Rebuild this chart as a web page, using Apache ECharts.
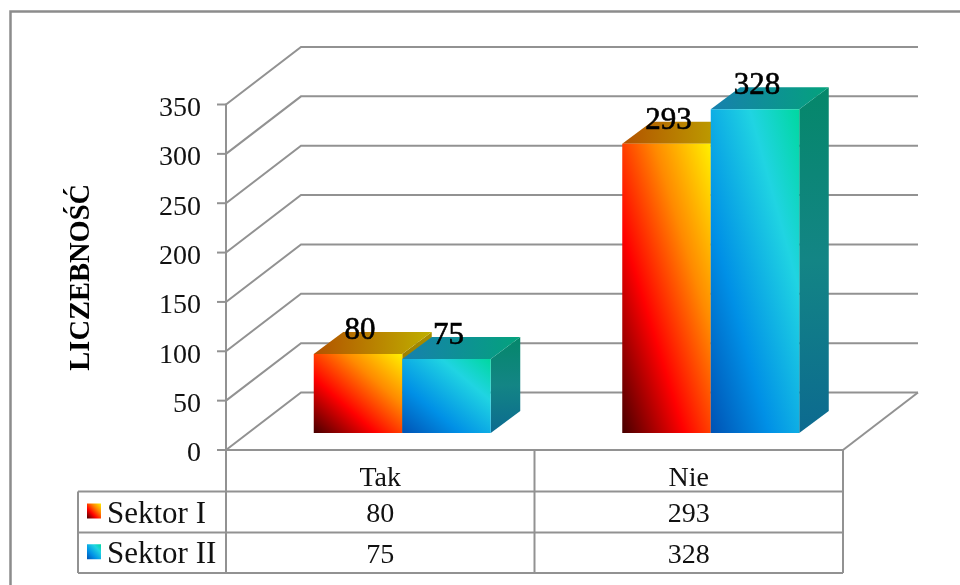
<!DOCTYPE html>
<html>
<head>
<meta charset="utf-8">
<style>html,body{margin:0;padding:0;background:#fff}#chart{width:960px;height:585px}</style>
<script src="https://cdn.jsdelivr.net/npm/echarts@6/dist/echarts.min.js"></script>
</head>
<body>
<div id="chart"></div>
<script>
// Values
const categories = ['Tak', 'Nie'];
const sektorI = [80, 293];
const sektorII = [75, 328];
const yTicks = [0, 50, 100, 150, 200, 250, 300, 350];
const seriesNames = ['Sektor I', 'Sektor II'];

// Oblique projection of the 3D box
const WALL_DX = 75, WALL_DY = -57.5;   // depth of the whole chart box
const BAR_SHIFT_X = 22, BAR_SHIFT_Y = -17; // bar front plane behind the box front
const BAR_DX = 29.5, BAR_DY = -22;     // depth of a bar
const BAR_W = 88.5;
const TICK_LEN = 9;

const LINE = '#929292';
const SERIF = '"Liberation Serif", serif';
const DIGIT_FONT = '28px ' + SERIF;
const TEXT_DROP = 2.5; // serif glyphs sit a little high on the middle baseline

const palettes = [
  {
    front: [[0, '#470000'], [0.35, '#ff0000'], [0.68, '#ff8a00'], [1, '#fff000']],
    top: ['#b25200', '#bfb000'],
    side: ['#a89000', '#7c5000']
  },
  {
    front: [[0, '#0052b4'], [0.33, '#0090e6'], [0.72, '#20d4e2'], [1, '#00d8a0']],
    top: ['#1780ae', '#04a27c'],
    side: ['#05876a', '#138585', '#0c6a90']
  }
];

// Gradient whose iso-lines follow the box's other diagonal, so tall bars keep the sweep
function diagonalGradient(stops, w, h) {
  const l2 = w * w + h * h;
  const fx = h * h / l2, fy = w * w / l2;
  return new echarts.graphic.LinearGradient(0.5 - fx, 0.5 + fy, 0.5 + fx, 0.5 - fy,
    stops.map(s => ({ offset: s[0], color: s[1] })));
}

function linear(x, y, x2, y2, colors) {
  return new echarts.graphic.LinearGradient(x, y, x2, y2,
    colors.map((c, i) => ({ offset: i / (colors.length - 1), color: c })));
}

function poly(points, fill, z2) {
  return { type: 'polygon', shape: { points }, style: { fill }, z2: z2 || 0, silent: true };
}

function barRenderer(seriesIndex) {
  const pal = palettes[seriesIndex];
  return function (params, api) {
    const cx = api.coord([api.value(0), 0])[0] + BAR_SHIFT_X;
    const base = api.coord([api.value(0), 0])[1] + BAR_SHIFT_Y;
    const top = api.coord([api.value(0), api.value(1)])[1] + BAR_SHIFT_Y;
    const x0 = cx + (seriesIndex === 0 ? -BAR_W : 0);
    const x1 = x0 + BAR_W;
    const h = base - top;
    return {
      type: 'group',
      children: [
        poly([[x1, base], [x1 + BAR_DX, base + BAR_DY], [x1 + BAR_DX, top + BAR_DY], [x1, top]],
          linear(0, 0, 0, 1, pal.side), 1),
        poly([[x0, top], [x1, top], [x1 + BAR_DX, top + BAR_DY], [x0 + BAR_DX, top + BAR_DY]],
          linear(0, 0, 1, 0, pal.top), 2),
        {
          type: 'rect', shape: { x: x0, y: top, width: BAR_W, height: h }, z2: 3, silent: true,
          style: { fill: diagonalGradient(pal.front, BAR_W, h) }
        },
        {
          type: 'text', z2: 5, silent: true,
          style: {
            text: String(api.value(1)), x: x0 + BAR_W / 2 + 2, y: top - 23,
            align: 'center', verticalAlign: 'middle',
            font: '31px ' + SERIF, fill: '#000',
            stroke: '#000', lineWidth: 0.6
          }
        }
      ]
    };
  };
}

function line(points, width) {
  return {
    type: 'polyline', shape: { points }, silent: true,
    style: { stroke: LINE, lineWidth: width || 2, fill: 'none', lineJoin: 'miter' }
  };
}

// Floor and wall grid of the box plus the outward tick, one item per tick value
function renderWalls(params, api) {
  const cs = params.coordSys;
  const y = api.coord([0, api.value(0)])[1];
  const xl = cs.x, xr = cs.x + cs.width;
  const children = [
    line([[xl - TICK_LEN, y], [xl, y]]),
    line([[xl, y], [xl + WALL_DX, y + WALL_DY], [xr + WALL_DX, y + WALL_DY]])
  ];
  if (api.value(0) === 0) {
    children.push(line([[xr, y], [xr + WALL_DX, y + WALL_DY]]));
  }
  return { type: 'group', children };
}

// Data table under the axis
const TABLE_LEFT = 78, ROW_TOPS = [491.5, 532.5, 573];
function renderTable(params, api) {
  const cs = params.coordSys;
  const xl = cs.x, xr = cs.x + cs.width, xm = cs.x + cs.width / 2;
  const children = [
    line([[xl, cs.y + cs.height], [xl, ROW_TOPS[2]]]),
    line([[xm, cs.y + cs.height], [xm, ROW_TOPS[2]]]),
    line([[xr, cs.y + cs.height], [xr, ROW_TOPS[2]]]),
    line([[TABLE_LEFT, ROW_TOPS[0]], [xr, ROW_TOPS[0]]]),
    line([[TABLE_LEFT, ROW_TOPS[1]], [xr, ROW_TOPS[1]]]),
    line([[TABLE_LEFT, ROW_TOPS[2]], [xr, ROW_TOPS[2]]]),
    line([[TABLE_LEFT, ROW_TOPS[0]], [TABLE_LEFT, ROW_TOPS[2]]])
  ];
  [sektorI, sektorII].forEach((vals, r) => {
    const mid = (ROW_TOPS[r] + ROW_TOPS[r + 1]) / 2;
    children.push({
      type: 'rect', shape: { x: 87, y: mid - 8.5, width: 14, height: 15 }, silent: true,
      style: { fill: diagonalGradient(palettes[r].front, 14, 15) }
    });
    children.push({
      type: 'text', silent: true,
      style: { text: seriesNames[r], x: 107, y: mid + TEXT_DROP, align: 'left', verticalAlign: 'middle', font: '31px ' + SERIF, fill: '#111' }
    });
    vals.forEach((v, c) => {
      children.push({
        type: 'text', silent: true,
        style: { text: String(v), x: api.coord([c, 0])[0], y: mid + TEXT_DROP, align: 'center', verticalAlign: 'middle', font: DIGIT_FONT, fill: '#111' }
      });
    });
  });
  return { type: 'group', children };
}

const chart = echarts.init(document.getElementById('chart'), null, { renderer: 'canvas' });
chart.setOption({
  animation: false,
  backgroundColor: '#ffffff',
  tooltip: { show: false },
  grid: { left: 226, right: 117, top: 104.5, bottom: 135 },
  graphic: [{
    type: 'polyline', silent: true,
    shape: { points: [[10.5, 585], [10.5, 11.5], [960, 11.5]] },
    style: { stroke: '#8c8c8c', lineWidth: 2.5, fill: 'none' }
  }],
  xAxis: {
    type: 'category',
    data: categories,
    axisLine: { show: true, lineStyle: { color: LINE, width: 2 } },
    axisTick: { show: false },
    splitLine: { show: false },
    axisLabel: { margin: 15, color: '#111', fontFamily: 'Liberation Serif', fontSize: 28, lineHeight: 28 }
  },
  yAxis: {
    type: 'value',
    min: 0, max: 350, interval: 50,
    name: 'LICZEBNOŚĆ',
    nameLocation: 'middle',
    nameRotate: 90,
    nameGap: 130,
    nameTextStyle: { fontFamily: 'Liberation Serif', fontSize: 28.5, fontWeight: 'bold', color: '#000' },
    axisLine: { show: true, lineStyle: { color: LINE, width: 2 } },
    axisTick: { show: false },
    splitLine: { show: false },
    axisLabel: { margin: 25, color: '#111', fontFamily: 'Liberation Serif', fontSize: 28, verticalAlign: 'top', lineHeight: 8 }
  },
  series: [
    { type: 'custom', name: 'walls', silent: true, clip: false, z: 1, renderItem: renderWalls,
      encode: { y: 0 }, data: yTicks.map(v => [v]) },
    { type: 'custom', name: seriesNames[0], silent: true, clip: false, z: 3, renderItem: barRenderer(0),
      encode: { x: 0, y: 1 }, data: sektorI.map((v, i) => [i, v]) },
    { type: 'custom', name: seriesNames[1], silent: true, clip: false, z: 4, renderItem: barRenderer(1),
      encode: { x: 0, y: 1 }, data: sektorII.map((v, i) => [i, v]) },
    { type: 'custom', name: 'table', silent: true, clip: false, z: 2, renderItem: renderTable,
      data: [[0]] }
  ]
});
</script>
</body>
</html>
